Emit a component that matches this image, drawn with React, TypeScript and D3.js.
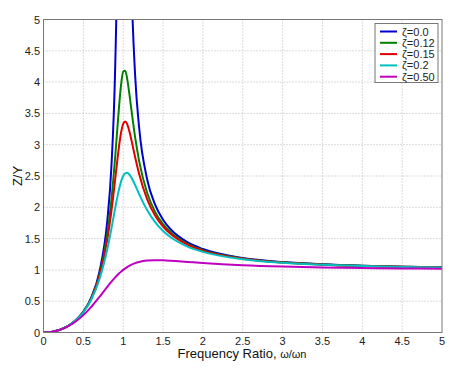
import React from "react";
import * as d3 from "d3";

const ratios = [0, 0.1, 0.2, 0.3, 0.4, 0.5, 0.6, 0.7, 0.8, 0.85, 0.9, 0.925, 0.95, 0.975, 1.0, 1.025, 1.05, 1.075, 1.1, 1.15, 1.2, 1.3, 1.4, 1.5, 1.6, 1.8, 2.0, 2.5, 3.0, 3.5, 4.0, 4.5, 5.0];

const zeta000 = [0, 0.0101, 0.04167, 0.0989, 0.19048, 0.33333, 0.5625, 0.96078, 1.77778, 2.6036, 4.26316, 5.92641, 9.25641, 19.2532, null, 20.7531, 10.7561, 7.4257, 5.7619, 4.10078, 3.27273, 2.44928, 2.04167, 1.8, 1.64103, 1.44643, 1.33333, 1.19048, 1.125, 1.08889, 1.06667, 1.05195, 1.04167];
const zeta012 = [0, 0.0101, 0.04161, 0.09859, 0.18924, 0.32915, 0.54878, 0.91255, 1.56863, 2.09773, 2.81573, 3.23097, 3.63955, 3.97502, 4.16667, 4.18326, 4.05257, 3.83545, 3.58689, 3.11558, 2.73832, 2.23173, 1.92705, 1.72969, 1.59346, 1.42026, 1.31659, 1.18278, 1.12047, 1.08587, 1.06449, 1.0503, 1.04037];
const zeta015 = [0, 0.0101, 0.04159, 0.09842, 0.18856, 0.32686, 0.54149, 0.88842, 1.47919, 1.9171, 2.45343, 2.73527, 2.99615, 3.20464, 3.33333, 3.37128, 3.3282, 3.2272, 3.09344, 2.80036, 2.53294, 2.13225, 1.87049, 1.6936, 1.56846, 1.40614, 1.30744, 1.17851, 1.11795, 1.08417, 1.06327, 1.04937, 1.03964];
const zeta020 = [0, 0.01009, 0.04152, 0.09805, 0.18711, 0.32208, 0.52668, 0.8422, 1.32874, 1.64627, 1.98988, 2.1543, 2.30048, 2.41822, 2.5, 2.54322, 2.55014, 2.52706, 2.48185, 2.35409, 2.21147, 1.95602, 1.76354, 1.62274, 1.51823, 1.37704, 1.28831, 1.16945, 1.11255, 1.08055, 1.06065, 1.04738, 1.03807];
const zeta050 = [0, 0.01005, 0.04079, 0.09393, 0.17197, 0.27735, 0.41036, 0.56577, 0.72954, 0.80803, 0.88059, 0.91393, 0.94504, 0.97375, 1.0, 1.02375, 1.04503, 1.06391, 1.08048, 1.10729, 1.12665, 1.14828, 1.15462, 1.15233, 1.1456, 1.12751, 1.1094, 1.07483, 1.05337, 1.03973, 1.03066, 1.02433, 1.01977];

const seriesLabels = ["ζ=0.0", "ζ=0.12", "ζ=0.15", "ζ=0.2", "ζ=0.50"];
const seriesColors = ["#0000d0", "#008000", "#e00000", "#00bfbf", "#bf00bf"];
const seriesValues = [zeta000, zeta012, zeta015, zeta020, zeta050];

const xTicks = [0, 0.5, 1, 1.5, 2, 2.5, 3, 3.5, 4, 4.5, 5];
const yTicks = [0, 0.5, 1, 1.5, 2, 2.5, 3, 3.5, 4, 4.5, 5];

const W = 466;
const H = 379;
const M = { left: 43.5, right: 442, top: 19.5, bottom: 332.5 };
const FONT = "'Liberation Sans', Arial, Helvetica, sans-serif";

export default function App() {
  const x = d3.scaleLinear().domain([0, 5]).range([M.left, M.right]);
  const y = d3.scaleLinear().domain([0, 5]).range([M.bottom, M.top]);

  const line = d3
    .line<[number, number | null]>()
    .defined((d) => d[1] !== null)
    .x((d) => x(d[0]))
    .y((d) => y(d[1] as number))
    .curve(d3.curveMonotoneX);

  const legX = 375;
  const legY = 23.5;
  const legW = 63;
  const legH = 59;
  const rowH = 11.3;

  return (
    <svg
      width={W}
      height={H}
      style={{ position: "absolute", left: 0, top: 0, background: "#fff" }}
      fontFamily={FONT}
    >
      <rect x={0} y={0} width={W} height={H} fill="#fff" />
      <defs>
        <clipPath id="plotclip">
          <rect x={M.left} y={M.top} width={M.right - M.left} height={M.bottom - M.top} />
        </clipPath>
      </defs>
      <rect x={M.left} y={M.top} width={M.right - M.left} height={M.bottom - M.top} fill="#fff" />
      {/* grid */}
      {xTicks.slice(1, -1).map((t) => (
        <line key={"gx" + t} x1={x(t)} x2={x(t)} y1={M.top} y2={M.bottom} stroke="#b8b8b8" strokeWidth={1} strokeDasharray="1,2" />
      ))}
      {yTicks.slice(1, -1).map((t) => (
        <line key={"gy" + t} x1={M.left} x2={M.right} y1={y(t)} y2={y(t)} stroke="#b8b8b8" strokeWidth={1} strokeDasharray="1,2" />
      ))}
      {/* curves */}
      <g clipPath="url(#plotclip)">
        {seriesValues.map((vals, i) => (
          <path
            key={i}
            d={line(ratios.map((r, j) => [r, vals[j]] as [number, number | null])) || ""}
            fill="none"
            stroke={seriesColors[i]}
            strokeWidth={2}
          />
        ))}
      </g>
      {/* axes box */}
      <rect x={M.left} y={M.top} width={M.right - M.left} height={M.bottom - M.top} fill="none" stroke="#777" strokeWidth={1} />
      {/* tick labels */}
      {xTicks.map((t) => (
        <text key={"tx" + t} x={x(t)} y={345} fontSize={11} textAnchor="middle" fill="#222">
          {String(t)}
        </text>
      ))}
      {yTicks.map((t) => (
        <text key={"ty" + t} x={40} y={y(t) + 4} fontSize={11} textAnchor="end" fill="#222">
          {String(t)}
        </text>
      ))}
      {/* axis labels */}
      <text x={242} y={358} fontSize={13} textAnchor="middle" fill="#111">
        Frequency Ratio, <tspan fontSize={11}>ω/ωn</tspan>
      </text>
      <text transform={`translate(22,${(M.top + M.bottom) / 2}) rotate(-90)`} fontSize={13} textAnchor="middle" fill="#111">
        Z/Y
      </text>
      {/* legend */}
      <rect x={legX} y={legY} width={legW} height={legH} fill="#fff" stroke="#777" strokeWidth={1} />
      {seriesLabels.map((lab, i) => {
        const cy = legY + 8 + i * rowH;
        return (
          <g key={lab}>
            <line x1={380} x2={397} y1={cy} y2={cy} stroke={seriesColors[i]} strokeWidth={2} />
            <text x={402} y={cy + 4} fontSize={11} fill="#222">
              {lab}
            </text>
          </g>
        );
      })}
    </svg>
  );
}
